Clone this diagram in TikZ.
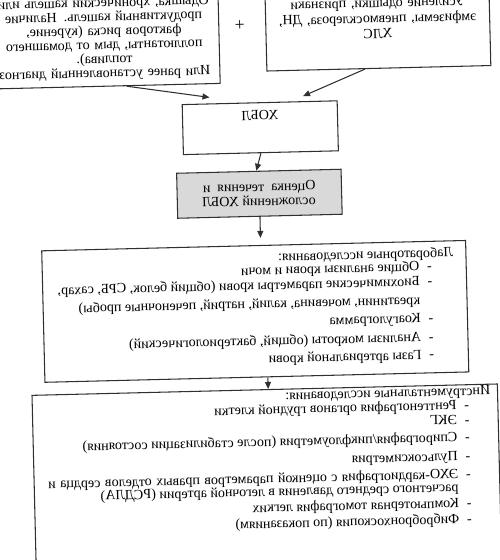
\documentclass[tikz,border=0pt]{standalone}
\usepackage{fontspec}
\setmainfont{Liberation Serif}
\usepackage{tikz}
\usetikzlibrary{arrows.meta,positioning}
\definecolor{framegray}{HTML}{303030}
\definecolor{shade}{HTML}{D9D9D9}
\newcommand{\dashitem}{\hspace*{0.43cm}\makebox[0.25cm][l]{-}}
\newcommand{\contline}{\hspace*{0.68cm}}

\begin{document}
\begin{tikzpicture}[
  xscale=-1,
  box/.style={draw=framegray, line width=0.6pt, align=center, font=\fontsize{8}{8}\selectfont, fill=#1},
  box/.default=white,
  listtext/.style={inner sep=0pt, align=left, anchor=north west, font=\fontsize{8}{8}\selectfont},
  arrow/.style={-{Triangle[length=4pt, width=3.4pt]}, line width=0.6pt, draw=framegray},
]
  \useasboundingbox (0,0) rectangle (10,-11.2);
  \clip (0,0) rectangle (10,-11.2);
  \fill[white] (0,0) rectangle (10,-11.2);

  \begin{scope}[rotate around={-1.4:(5,-5.6)}, transform shape]
  % Symptoms and risk factors
  \node[box, anchor=south, text width=4.4cm, inner xsep=0.1cm, inner ysep=0.12cm] (sympt) at (7.8,-1.665)
    {Одышка, хронический кашель или\\продуктивный кашель. Наличие\\факторов риска (курение,\\поллютанты, дым от домашнего\\топлива).\\Или ранее установленный диагноз};

  % Imaging signs
  \node[box, anchor=south, text width=4.2cm, inner xsep=0.14cm, inner ysep=0.6cm, font=\fontsize{8}{8.8}\selectfont] (imaging) at (2.32,-1.44)
    {Усиление одышки, признаки\\эмфиземы, пневмосклероза, ДН,\\ХЛС};

  \node[font=\fontsize{10}{10}\selectfont] (plus) at (5.08,-0.5) {+};

  % Diagnosis
  \node[box, minimum width=3.1cm, minimum height=1cm, text depth=0.5cm] (hobl) at (4.72,-2.56) {ХОБЛ};

  % Assessment
  \node[box=shade, minimum width=3.29cm, minimum height=0.9cm, font=\fontsize{8}{8.2}\selectfont] (assess) at (4.77,-3.88)
    {\makebox[2.25cm][s]{Оценка течения и}\\\makebox[2.25cm][l]{осложнений ХОБЛ}};

  % Laboratory tests
  \node[box, minimum width=8.48cm, minimum height=2.63cm] (lab) at (4.91,-6.23) {};
  \node[listtext] (labtext) at ([xshift=0.26cm, yshift=-0.12cm]lab.north west)
    {Лабораторные исследования:\\[-0.4pt]
    \dashitem Общие анализы крови и мочи\\[0.5pt]
    \dashitem Биохимические параметры крови (общий белок, СРБ, сахар,\\[2.5pt]
    \contline креатинин, мочевина, калий, натрий, печеночные пробы)\\[2.4pt]
    \dashitem Коагулограмма\\[2.8pt]
    \dashitem Анализы мокроты (общий, бактериологический)\\[2.1pt]
    \dashitem Газы артериальной крови};

  % Instrumental tests
  \node[box, minimum width=9.31cm, minimum height=3.8cm] (instr) at (4.76,-9.7) {};
  \node[listtext] (instrtext) at ([xshift=0.15cm, yshift=-0.03cm]instr.north west)
    {Инструментальные исследования:\\
    \dashitem Рентгенография органов грудной клетки\\[0.5pt]
    \dashitem ЭКГ\\[1.7pt]
    \dashitem Спирография/пикфлоуметрия (после стабилизации состояния)\\[2.8pt]
    \dashitem Пульсоксиметрия\\[2.2pt]
    \dashitem \makebox[8.2cm][s]{ЭХО-кардиография с оценкой параметров правых отделов сердца и}\\[-0.6pt]
    \contline расчетного среднего давления в легочной артерии (РСДЛА)\\[1.1pt]
    \dashitem Компьютерная томография легких\\[1.1pt]
    \dashitem Фибробронхоскопия (по показаниям)};

  % Arrows
  \draw[arrow] ([xshift=-0.43cm]sympt.south) -- ([xshift=1cm, yshift=0.12cm]hobl.north);
  \draw[arrow] ([xshift=0.28cm]imaging.south) -- ([xshift=-0.87cm, yshift=0.1cm]hobl.north);
  \draw[arrow] (hobl.south) -- ([xshift=0.05cm]assess.north);
  \draw[arrow] (assess.south) -- ([xshift=-0.14cm, yshift=0.14cm]lab.north);
  \draw[arrow] ([xshift=-0.22cm]lab.south) -- ([xshift=-0.07cm]instr.north);
  \end{scope}
\end{tikzpicture}
\end{document}
